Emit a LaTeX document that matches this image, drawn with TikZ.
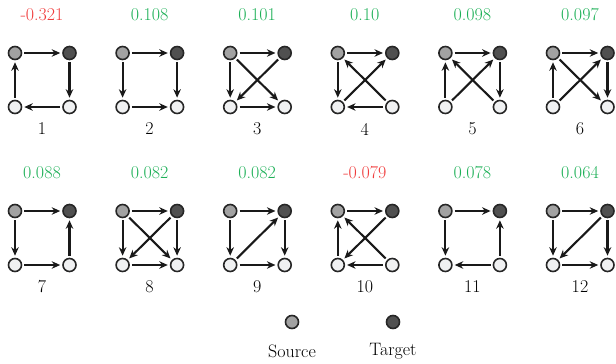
\documentclass[tikz,border=0pt]{standalone}
\usepackage{fontspec}
\usetikzlibrary{arrows.meta}
\definecolor{srcgray}{HTML}{A2A2A2}
\definecolor{tgtgray}{HTML}{505050}
\definecolor{othgray}{HTML}{F0F1F2}
\definecolor{negred}{HTML}{F03C3C}
\definecolor{posgreen}{HTML}{1DB057}
\tikzset{
  vtx/.style={circle,draw=black!85,line width=1.6pt,minimum size=13pt,inner sep=0pt},
  src/.style={vtx,fill=srcgray},
  tgt/.style={vtx,fill=tgtgray},
  oth/.style={vtx,fill=othgray},
  edge/.style={line width=2.1pt,black!90,-{Stealth[length=8.5pt,width=7.5pt]},shorten >=2pt,shorten <=2pt},
  val/.style={font=\fontsize{18}{21}\selectfont},
  num/.style={font=\fontsize{18}{21}\selectfont},
}
\newcommand\motif[6]{%
  \node[src] (m#1a) at (#2,#3) {};
  \node[tgt] (m#1b) at (#2+54.5,#3) {};
  \node[oth] (m#1c) at (#2,#3+54) {};
  \node[oth] (m#1d) at (#2+54.5,#3+54) {};
  \node[val,text=#5] (m#1v) at (#2+27,#3-38) {#4};
  \node[num] (m#1n) at (#2+27,#3+76) {#1};
  \foreach \s/\t in {#6} {\draw[edge] (m#1\s) -- (m#1\t);}
}
\begin{document}
\begin{tikzpicture}[x=1pt,y=-1pt]
\useasboundingbox (0,0) rectangle (616,364);
\motif{1}{15}{53}{-0.321}{negred}{a/b,b/d,d/c,c/a}
\motif{2}{122.6}{53}{0.108}{posgreen}{a/b,a/c,b/d,c/d}
\motif{3}{230.2}{53}{0.101}{posgreen}{a/b,a/c,a/d,b/c,c/d}
\motif{4}{337.8}{53}{0.10}{posgreen}{a/b,a/c,c/b,d/a,d/c}
\motif{5}{445.4}{53}{0.098}{posgreen}{a/b,c/a,c/b,d/a,b/d}
\motif{6}{553}{53}{0.097}{posgreen}{a/b,c/a,c/b,a/d,b/d}
\motif{7}{15}{211}{0.088}{posgreen}{a/b,a/c,c/d,d/b}
\motif{8}{122.6}{211}{0.082}{posgreen}{a/b,a/c,a/d,b/c,b/d,c/d}
\motif{9}{230.2}{211}{0.082}{posgreen}{a/b,a/c,c/b,b/d,c/d}
\motif{10}{337.8}{211}{-0.079}{negred}{a/b,c/a,b/c,d/a,d/c}
\motif{11}{445.4}{211}{0.078}{posgreen}{a/b,a/c,d/c,d/b}
\motif{12}{553}{211}{0.064}{posgreen}{a/b,a/c,b/c,b/d,c/d}
\node[src] (lsrc) at (292,322) {};
\node[tgt] (ltgt) at (393,322) {};
\node[num] (lsrct) at (292,351) {Source};
\node[num] (ltgtt) at (393,351) {Target};
\end{tikzpicture}
\end{document}
